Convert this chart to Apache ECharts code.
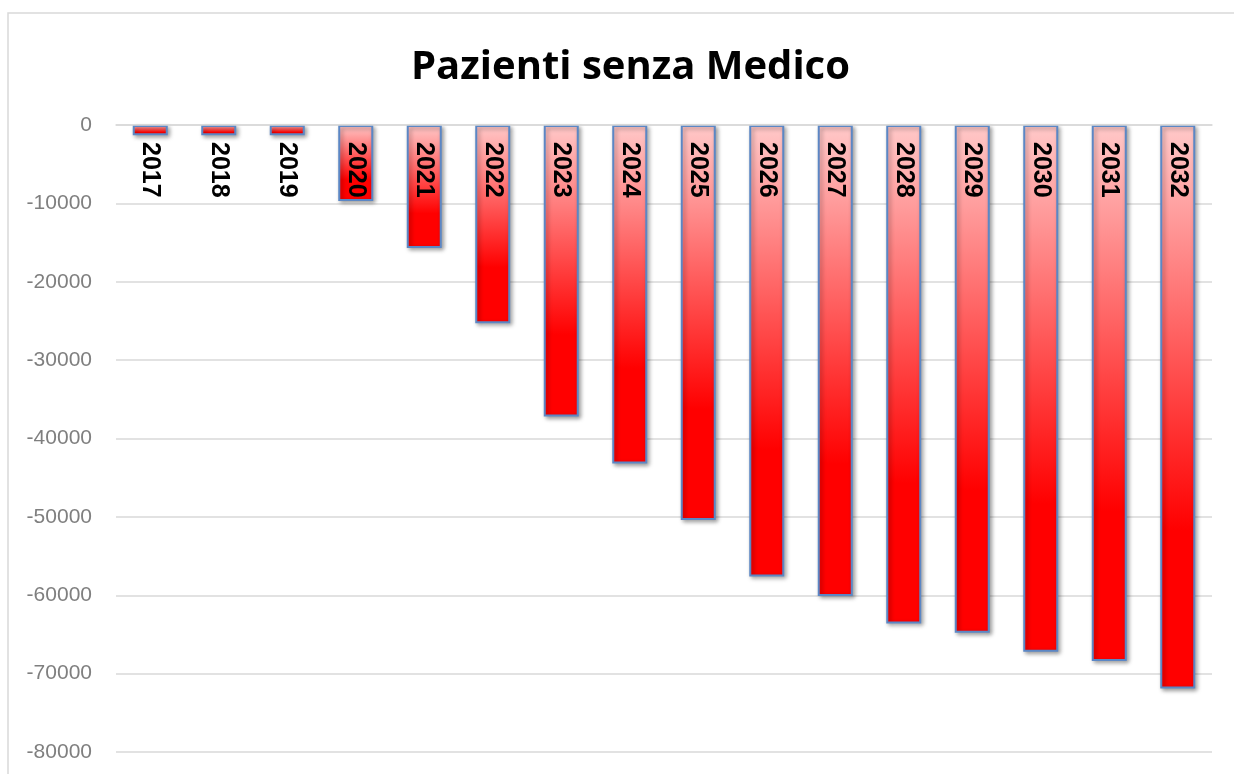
<!DOCTYPE html>
<html>
<head>
<meta charset="utf-8">
<script src="https://cdn.jsdelivr.net/npm/echarts@6/dist/echarts.min.js"></script>
<style>
  html, body { margin: 0; padding: 0; background: #ffffff; }
  #chart { width: 1234px; height: 774px; }
</style>
</head>
<body>
<div id="chart"></div>
<script>
// Years on the category axis
const years = ['2017', '2018', '2019', '2020', '2021', '2022', '2023', '2024',
               '2025', '2026', '2027', '2028', '2029', '2030', '2031', '2032'];
// Patients without a family doctor (negative balance)
const patients = [-1300, -1300, -1300, -9700, -15700, -25300, -37200, -43200,
                  -50400, -57600, -60100, -63600, -64800, -67200, -68400, -71900];
// Value axis range
const yMin = -80000;
const yMax = 0;
const yStep = 10000;

const chart = echarts.init(document.getElementById('chart'), null, { renderer: 'canvas' });

chart.setOption({
  animation: false,
  backgroundColor: '#ffffff',
  graphic: [{
    type: 'rect',
    z: -10,
    shape: { x: 8, y: 13, width: 1260, height: 800 },
    style: { fill: 'none', stroke: '#d9d9d9', lineWidth: 1.5 }
  }],
  title: {
    text: 'Pazienti senza Medico',
    left: 406,
    top: 43,
    textStyle: {
      fontFamily: 'Open Sans',
      fontWeight: 'bold',
      fontSize: 40,
      color: '#000000'
    }
  },
  grid: { left: 116, right: 22, top: 125, bottom: 22, containLabel: false },
  xAxis: {
    type: 'category',
    data: years,
    position: 'top',
    axisLine: { show: true, lineStyle: { color: '#d9d9d9', width: 1.5 } },
    axisTick: { show: false },
    axisLabel: {
      inside: true,
      rotate: -90,
      margin: 17,
      fontFamily: 'Liberation Sans',
      fontWeight: 'bold',
      fontSize: 25,
      color: '#000000'
    },
    z: 10
  },
  yAxis: {
    type: 'value',
    min: yMin,
    max: yMax,
    interval: yStep,
    axisLine: { show: false },
    axisTick: { show: false },
    axisLabel: {
      margin: 24,
      fontFamily: 'Liberation Sans',
      fontSize: 21,
      color: '#7f7f7f',
      formatter: function (v) { return String(v); }
    },
    splitLine: { lineStyle: { color: '#d9d9d9', width: 1.5 } }
  },
  series: [{
    type: 'bar',
    data: patients,
    barWidth: 35,
    itemStyle: {
      color: new echarts.graphic.LinearGradient(0, 0, 0, 1, [
        { offset: 0, color: '#ffc9c9' },
        { offset: 0.72, color: '#ff0000' },
        { offset: 1, color: '#ff0000' }
      ]),
      borderColor: '#5b87c5',
      borderWidth: 2,
      shadowColor: 'rgba(0,0,0,0.35)',
      shadowBlur: 4,
      shadowOffsetX: 2,
      shadowOffsetY: 2
    }
  }]
});
</script>
</body>
</html>
